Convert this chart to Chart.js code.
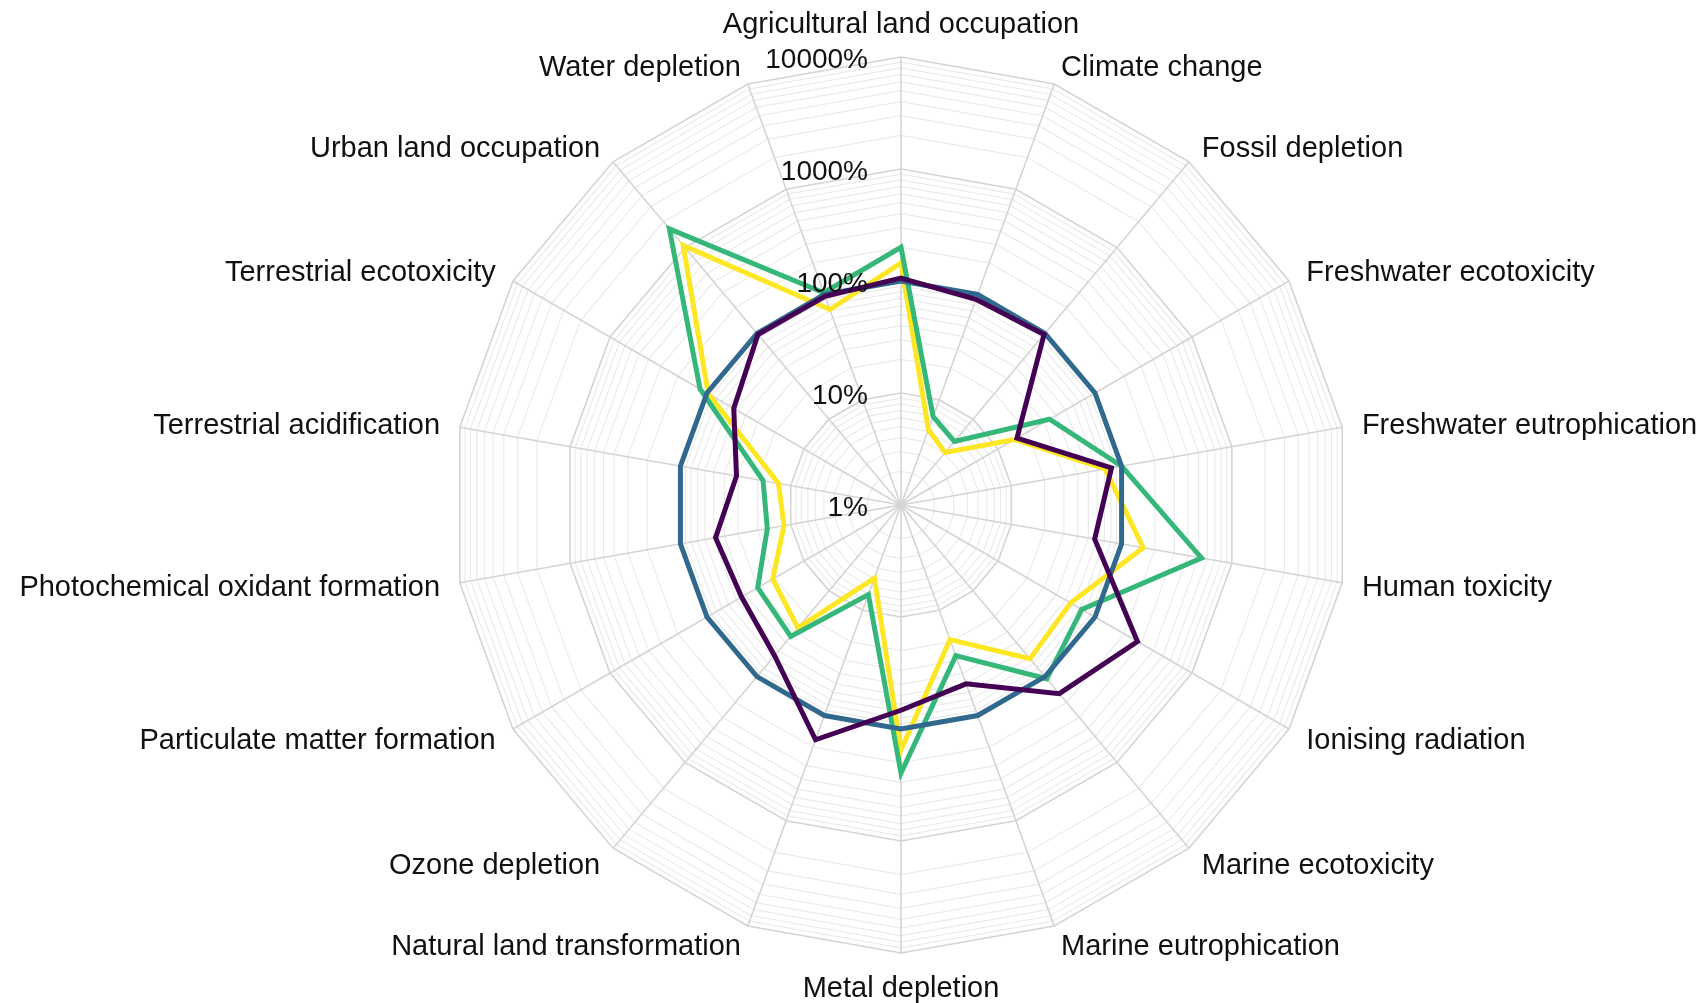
<!DOCTYPE html>
<html>
<head>
<meta charset="utf-8">
<script src="https://cdn.jsdelivr.net/npm/chart.js@4.4.0/dist/chart.umd.min.js"></script>
<style>
  html, body { margin: 0; padding: 0; background: #ffffff; }
  #wrap { width: 1708px; height: 1003px; }
</style>
</head>
<body>
<div id="wrap"><canvas id="radar" width="1708" height="1003"></canvas></div>
<script>
// Impact categories, clockwise from the top
const categories = [
  'Agricultural land occupation', 'Climate change', 'Fossil depletion',
  'Freshwater ecotoxicity', 'Freshwater eutrophication', 'Human toxicity',
  'Ionising radiation', 'Marine ecotoxicity', 'Marine eutrophication',
  'Metal depletion', 'Natural land transformation', 'Ozone depletion',
  'Particulate matter formation', 'Photochemical oxidant formation',
  'Terrestrial acidification', 'Terrestrial ecotoxicity',
  'Urban land occupation', 'Water depletion'
];

// Relative impact of each scenario, in percent
const scenarioPurple = [106, 90, 97, 15.7, 81, 57, 274, 158, 50, 68, 170, 57, 44, 48, 31, 53, 97, 96];
const scenarioBlue   = [100, 100, 100, 100, 100, 100, 100, 100, 100, 100, 100, 100, 100, 100, 100, 100, 100, 100];
const scenarioGreen  = [200, 6.9, 5.5, 34, 100, 530, 73, 106, 27, 248, 7.1, 34, 30, 16.3, 17.8, 118, 1650, 104];
const scenarioYellow = [145, 5.2, 4.1, 14.8, 71, 157, 56, 62, 19, 154, 4.95, 27, 21, 11.5, 12.9, 97, 1060, 72];

// Labelled rings of the log scale
const tickValues = [1, 10, 100, 1000, 10000];
const tickLabels = ['1%', '10%', '100%', '1000%', '10000%'];

const FONT = '"Liberation Sans", Arial, Helvetica, sans-serif';

// Ring positions in log10 units: every 1..9 step of each decade
const logRings = [];
for (let e = 0; e < 4; e++) {
  for (let m = 1; m < 10; m++) logRings.push(e + Math.log10(m));
}
logRings.push(4);

const toLog = arr => arr.map(v => Math.log10(v));

function series(values, color) {
  return {
    data: toLog(values),
    borderColor: color,
    backgroundColor: 'rgba(0,0,0,0)',
    borderWidth: 5,
    fill: false,
    pointRadius: 0,
    pointHoverRadius: 0,
    borderJoinStyle: 'miter',
    tension: 0
  };
}

// Category names and percent labels, drawn on top of the series
const labelPlugin = {
  id: 'radarText',
  afterDatasetsDraw(chart) {
    const s = chart.scales.r;
    const ctx = chart.ctx;
    ctx.save();
    ctx.fillStyle = '#111111';
    ctx.textBaseline = 'middle';
    ctx.font = '29px ' + FONT;
    const n = categories.length;
    categories.forEach((name, i) => {
      const deg = i * 360 / n;
      const axial = deg === 0 || deg === 180;
      const p = s.getPointPosition(i, s.drawingArea + (axial ? 34 : 20));
      ctx.textAlign = axial ? 'center' : (deg < 180 ? 'left' : 'right');
      const lift = (deg > 0 && deg < 60) || (deg > 300) ? 3 : 2;
      ctx.fillText(name, p.x, p.y + lift);
    });
    ctx.font = '28px ' + FONT;
    ctx.textAlign = 'right';
    tickValues.forEach((v, i) => {
      const d = s.getDistanceFromCenterForValue(Math.log10(v));
      ctx.fillText(tickLabels[i], s.xCenter - 33, s.yCenter - d + 3);
    });
    ctx.restore();
  }
};

new Chart(document.getElementById('radar'), {
  type: 'radar',
  data: {
    labels: categories,
    datasets: [
      series(scenarioPurple, '#440154'),
      series(scenarioBlue, '#31688E'),
      series(scenarioGreen, '#35B779'),
      series(scenarioYellow, '#FDE725')
    ]
  },
  options: {
    responsive: false,
    animation: false,
    devicePixelRatio: 1,
    layout: { padding: { top: 57, bottom: 50, left: 200, right: 106 } },
    plugins: { legend: { display: false }, tooltip: { enabled: false } },
    elements: { line: { borderCapStyle: 'butt' } },
    scales: {
      r: {
        min: 0,
        max: 4,
        afterBuildTicks: scale => {
          scale.ticks = logRings.map(v => ({ value: v }));
        },
        ticks: { display: false },
        pointLabels: { display: false },
        angleLines: { color: '#D4D4D4', lineWidth: 1.6 },
        grid: {
          color: ctx => Number.isInteger(ctx.tick.value) ? '#D4D4D4' : '#EBEBEB',
          lineWidth: ctx => Number.isInteger(ctx.tick.value) ? 1.6 : 1.2
        }
      }
    }
  },
  plugins: [labelPlugin]
});
</script>
</body>
</html>
